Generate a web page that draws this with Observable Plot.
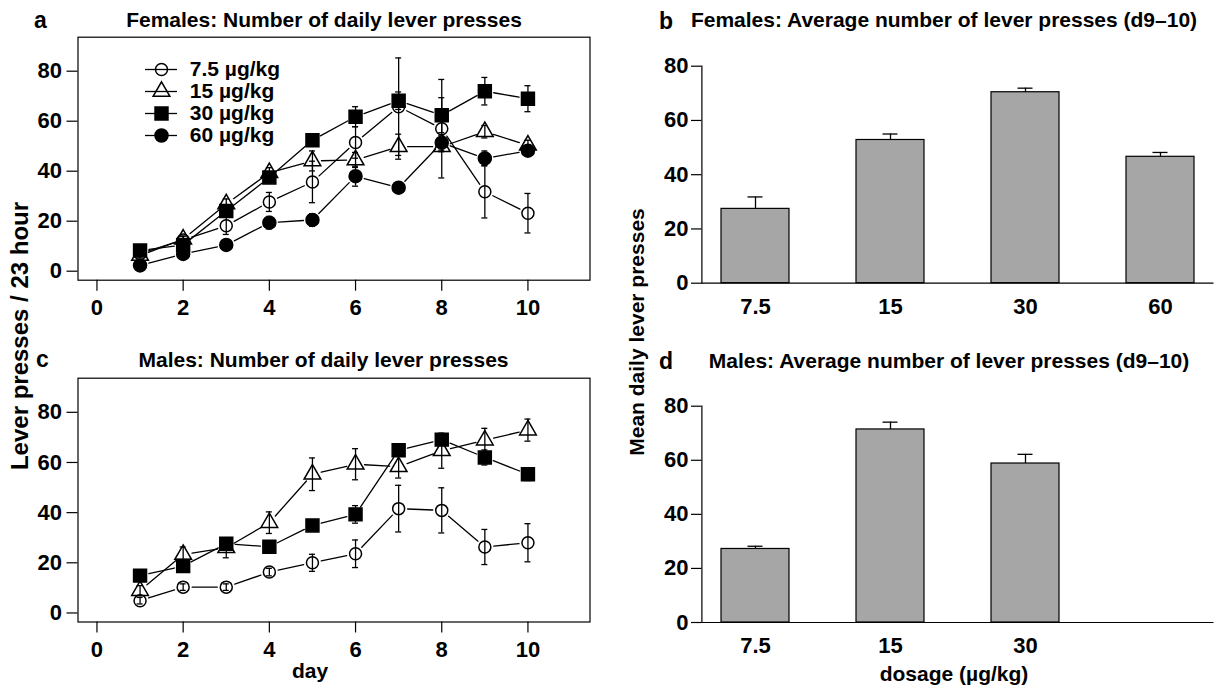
<!DOCTYPE html>
<html><head><meta charset="utf-8">
<script src="https://cdn.jsdelivr.net/npm/d3@7"></script>
<script src="https://cdn.jsdelivr.net/npm/@observablehq/plot@0.6"></script>
<style>
html,body{margin:0;padding:0;background:#fff;}
#root{position:relative;width:1215px;height:688px;overflow:hidden;font-family:"Liberation Sans",Arial,Helvetica,sans-serif;font-weight:bold;color:#000;}
.panel{position:absolute;}
.lbl{position:absolute;white-space:nowrap;line-height:1;}
</style></head><body><div id="root"></div>
<script>
// ---------- data ----------
const days = [1,2,3,4,5,6,7,8,9,10];
const doses = ["7.5","15","30","60"];
const doseLabels = ["7.5 µg/kg","15 µg/kg","30 µg/kg","60 µg/kg"];
const xTicks = [0,2,4,6,8,10];
const yTicks = [0,20,40,60,80];

// Females, daily presses (mean, s.e.m.)
const femMean75 = [7.0,12.5,18.2,27.7,35.7,51.5,65.8,57.0,31.8,23.2];
const femSe75   = [1.0,1.5,3.5,3.8,8.3,6.3,19.5,19.7,10.5,7.9];
const femMean15 = [6.3,12.8,26.9,39.4,44.1,44.5,49.8,49.8,55.8,50.4];
const femSe15   = [1.0,1.2,2.0,2.0,4.0,3.0,5.0,2.0,2.5,2.0];
const femMean30 = [8.3,10.5,24.1,37.5,52.4,61.8,68.2,62.4,72.0,69.0];
const femSe30   = [1.0,1.0,2.0,2.0,2.0,4.0,3.5,7.0,5.5,5.2];
const femMean60 = [2.3,6.9,10.5,19.4,20.5,38.0,33.4,51.4,45.1,48.2];
const femSe60   = [1.0,1.0,1.2,2.5,2.5,4.0,1.0,3.0,3.0,1.7];

// Males, daily presses
const maleMean75 = [4.9,10.3,10.3,16.3,20.0,23.6,41.6,40.9,26.3,28.0];
const maleSe75   = [1.3,1.3,1.3,1.5,3.4,5.5,9.3,9.0,7.0,7.6];
const maleMean15 = [8.9,23.3,26.0,36.0,55.3,59.3,58.3,64.7,68.9,72.9];
const maleSe15   = [2.0,3.0,4.0,4.3,6.5,6.2,4.5,7.0,4.7,4.4];
const maleMean30 = [14.9,18.7,27.6,26.4,34.9,39.3,64.9,69.1,62.0,55.3];
const maleSe30   = [1.0,1.0,1.5,1.5,1.0,3.5,2.0,1.5,3.0,2.5];

// Average d9-10
const femAvg   = [27.4,52.8,70.4,46.6];
const femAvgSe = [4.4,2.2,1.5,1.6];
const maleAvg   = [27.2,71.4,58.8,0];
const maleAvgSe = [1.0,2.7,3.4,0];
const maleDoseTicks = ["7.5","15","30"];

// ---------- styles ----------
const FONT = '"Liberation Sans", Arial, Helvetica, sans-serif';
const seriesStyle = [
  {symbol: "circle",   fill: "none", r: 6},
  {symbol: "triangle", fill: "none", r: 6.2},
  {symbol: "square",   fill: "#000", r: 7.3},
  {symbol: "circle",   fill: "#000", r: 6.5}
];
const svgStyle = {fontFamily: FONT, fontSize: "22px", fontWeight: "bold", color: "#000", background: "transparent", overflow: "visible"};

// line curve that leaves a gap around each point (like R type="b")
function gapCurve(gap) {
  return (context) => {
    let pts = [];
    return {
      areaStart() {}, areaEnd() {},
      lineStart() { pts = []; },
      point(x, y) { pts.push([+x, +y]); },
      lineEnd() {
        for (let i = 0; i < pts.length - 1; i++) {
          const [x0, y0] = pts[i], [x1, y1] = pts[i + 1];
          const dx = x1 - x0, dy = y1 - y0, L = Math.hypot(dx, dy);
          if (L <= 2 * gap) continue;
          const ux = dx / L, uy = dy / L;
          context.moveTo(x0 + ux * gap, y0 + uy * gap);
          context.lineTo(x1 - ux * gap, y1 - uy * gap);
        }
      }
    };
  };
}

const root = document.getElementById("root");
function place(el, left, top) {
  el.classList.add("panel");
  el.style.left = left + "px";
  el.style.top = top + "px";
  root.appendChild(el);
}

function linePanel(means, ses, {height, marginTop, marginBottom}) {
  const marks = [
    Plot.frame({stroke: "#000", strokeWidth: 1.2}),
    Plot.axisX(xTicks, {tickSize: 11, tickPadding: 8, fontSize: 22, fontWeight: "bold", strokeWidth: 1.2, label: null, tickFormat: d => String(d)}),
    Plot.axisY(yTicks, {tickSize: 11, tickPadding: 5, fontSize: 22, fontWeight: "bold", strokeWidth: 1.2, label: null, tickFormat: d => String(d)})
  ];
  means.forEach((m, k) => {
    const rows = days.map((d, i) => ({day: d, m: m[i], s: ses[k][i]}));
    const st = seriesStyle[k];
    marks.push(
      Plot.ruleX(rows, {x: "day", y1: d => d.m - d.s, y2: d => d.m + d.s, stroke: "#000", strokeWidth: 1.3}),
      Plot.ruleY(rows, {x1: "day", x2: "day", y: d => d.m - d.s, insetLeft: -3, insetRight: -3, stroke: "#000", strokeWidth: 1.3}),
      Plot.ruleY(rows, {x1: "day", x2: "day", y: d => d.m + d.s, insetLeft: -3, insetRight: -3, stroke: "#000", strokeWidth: 1.3}),
      Plot.line(rows, {x: "day", y: "m", curve: gapCurve(9), stroke: "#000", strokeWidth: 1.3}),
      Plot.dot(rows, {x: "day", y: "m", symbol: st.symbol, r: st.r, fill: st.fill, stroke: "#000", strokeWidth: 1.5})
    );
  });
  return Plot.plot({
    width: 600, height, marginLeft: 77.5, marginRight: 10.5, marginTop, marginBottom,
    x: {domain: [-0.44, 11.44], axis: null, label: null},
    y: {domain: [-3.6, 93.6], axis: null, label: null},
    style: svgStyle,
    marks
  });
}

function barPanel(means, ses, labels, {height, marginTop, marginBottom}) {
  const rows = doses.map((d, i) => ({dose: d, m: means[i], s: ses[i]}));
  const errRows = rows.filter(d => d.m > 0);
  return Plot.plot({
    width: 575, height, marginLeft: 61.4, marginRight: 1.5, marginTop, marginBottom,
    x: {domain: doses, paddingInner: 0.5, paddingOuter: 0.14, axis: null, label: null},
    y: {domain: [0, 80], axis: null, label: null},
    style: svgStyle,
    marks: [
      Plot.frame({anchor: "left", stroke: "#000", strokeWidth: 1.2}),
      Plot.axisY(yTicks, {tickSize: 10.4, tickPadding: 3, fontSize: 22, fontWeight: "bold", strokeWidth: 1.2, label: null, tickFormat: d => String(d)}),
      Plot.axisX(labels, {tickSize: 0, tickPadding: 15, fontSize: 22, fontWeight: "bold", label: null}),
      Plot.ruleX(errRows, {x: "dose", y1: "m", y2: d => d.m + d.s, stroke: "#000", strokeWidth: 1.3}),
      Plot.tickY(errRows, {x: "dose", y: d => d.m + d.s, insetLeft: 26.5, insetRight: 26.5, stroke: "#000", strokeWidth: 1.3}),
      Plot.barY(rows, {x: "dose", y: "m", fill: "#a6a6a6", stroke: "#000", strokeWidth: 1.2}),
      Plot.ruleY([0], {stroke: "#000", strokeWidth: 1.2})
    ]
  });
}

// panels
place(linePanel([femMean75, femMean15, femMean30, femMean60], [femSe75, femSe15, femSe30, femSe60],
  {height: 330, marginTop: 36.7, marginBottom: 50.3}), 0, 0);
place(linePanel([maleMean75, maleMean15, maleMean30], [maleSe75, maleSe15, maleSe30],
  {height: 348, marginTop: 37.7, marginBottom: 66.5}), 0, 340);
place(barPanel(femAvg, femAvgSe, doses, {height: 330, marginTop: 65.7, marginBottom: 47.3}), 640, 0);
place(barPanel(maleAvg, maleAvgSe, maleDoseTicks, {height: 348, marginTop: 65.7, marginBottom: 66}), 640, 340);

// legend (panel a)
const legend = Plot.plot({
  width: 220, height: 100, marginLeft: 0, marginRight: 0, marginTop: 0, marginBottom: 0,
  y: {type: "point", domain: doseLabels, range: [14.3, 80.3], padding: 0, axis: null},
  style: svgStyle,
  marks: [
    Plot.ruleY(doseLabels, {y: d => d, insetLeft: 5, insetRight: 183, stroke: "#000", strokeWidth: 1.3}),
    ...doseLabels.map((lab, k) => Plot.dot([lab], {y: d => d, frameAnchor: "left", dx: 21,
      symbol: seriesStyle[k].symbol, r: seriesStyle[k].r, fill: seriesStyle[k].fill, stroke: "#000", strokeWidth: 1.5})),
    Plot.text(doseLabels, {y: d => d, text: d => d, frameAnchor: "left", dx: 49.3, textAnchor: "start", fontSize: 21, fontWeight: "bold"})
  ]
});
place(legend, 140, 55);

// text labels
function label(text, {x, baseline, size = 21, center = false}) {
  const el = document.createElement("div");
  el.className = "lbl";
  el.textContent = text;
  el.style.fontSize = size + "px";
  el.style.left = x + "px";
  el.style.top = (baseline - 0.8465 * size) + "px";
  if (center) el.style.transform = "translateX(-50%)";
  root.appendChild(el);
}
function vlabel(text, {cx, cy, size = 21}) {
  const el = document.createElement("div");
  el.className = "lbl";
  el.textContent = text;
  el.style.fontSize = size + "px";
  el.style.left = cx + "px";
  el.style.top = cy + "px";
  el.style.transform = "translate(-50%,-50%) rotate(-90deg)";
  root.appendChild(el);
}
label("a", {x: 34, baseline: 28, size: 23});
label("Females: Number of daily lever presses", {x: 324, baseline: 27, center: true});
label("b", {x: 659, baseline: 29, size: 23});
label("Females: Average number of lever presses (d9–10)", {x: 944, baseline: 27, center: true});
label("c", {x: 36, baseline: 367, size: 23});
label("Males: Number of daily lever presses", {x: 323.5, baseline: 367, center: true});
label("d", {x: 659, baseline: 369, size: 23});
label("Males: Average number of lever presses (d9–10)", {x: 949, baseline: 368, center: true});
label("day", {x: 310, baseline: 678, center: true});
label("dosage (µg/kg)", {x: 954, baseline: 681, center: true});
vlabel("Lever presses / 23 hour", {cx: 20, cy: 336, size: 24});
vlabel("Mean daily lever presses", {cx: 636, cy: 332});
</script></body></html>
